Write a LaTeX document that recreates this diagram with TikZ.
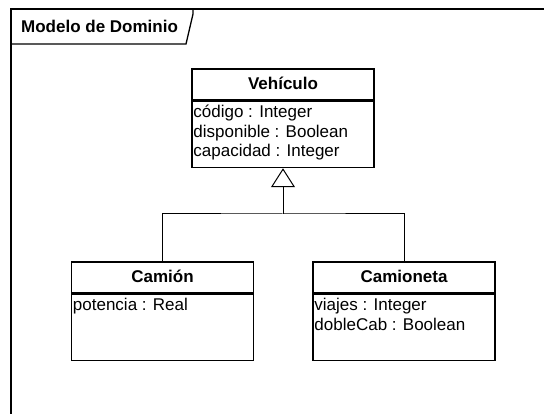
\documentclass[tikz,border=0pt]{standalone}
\usepackage{fontspec}
\setmainfont{Liberation Sans}
\usetikzlibrary{arrows.meta,calc}

\tikzset{
  umlfont/.style={font=\fontsize{17}{19.5}\selectfont},
  classname/.style={draw, line width=1.5pt, umlfont, minimum width=182pt, minimum height=31pt, text height=11pt, text depth=0pt, inner sep=0pt},
  classattr/.style={draw, line width=1.5pt, minimum width=182pt, minimum height=66pt, anchor=north, inner sep=0pt},
  attr/.style={umlfont, anchor=base west, inner sep=0pt},
  generalization/.style={line width=1pt, -{Triangle[open, length=19pt, width=24pt]}},
}

\begin{document}
\begin{tikzpicture}[x=1pt, y=-1pt]
\useasboundingbox (0,0) rectangle (544,414);
\clip (0,0) rectangle (544,414);
\draw[line width=1.6pt] (11,420)--(11,9)--(550,9);
\draw[line width=1.3pt] (11,44)--(186,44)--(193,14)--(193,9);
\node[umlfont, font=\fontsize{17}{19.5}\selectfont\bfseries, anchor=base west, inner sep=0pt] (frametitle) at (21,33) {Modelo de Dominio};

\node[classname, font=\fontsize{17}{19.5}\selectfont\bfseries] (vehiculo) at (283,84.5) {Vehículo};
\node[classattr] (vehiculoattr) at (vehiculo.south) {};
\foreach \t [count=\i from 0] in {código : Integer, disponible : Boolean, capacidad : Integer}
  \node[attr] (v\i) at ($(vehiculoattr.north west)+(2,17+19.5*\i)$) {\t};

\node[classname, font=\fontsize{17}{19.5}\selectfont\bfseries] (camion) at (162.5,277.5) {Camión};
\node[classattr] (camionattr) at (camion.south) {};
\node[attr] (c0) at ($(camionattr.north west)+(2,17)$) {potencia : Real};

\node[classname, font=\fontsize{17}{19.5}\selectfont\bfseries] (camioneta) at (404,277.5) {Camioneta};
\node[classattr] (camionetaattr) at (camioneta.south) {};
\foreach \t [count=\i from 0] in {viajes : Integer, dobleCab : Boolean}
  \node[attr] (ct\i) at ($(camionetaattr.north west)+(2,17+19.5*\i)$) {\t};

\coordinate (junction) at (283,214);
\draw[line width=1pt] (camion.north) |- (junction) -| (camioneta.north);
\draw[generalization] (junction) -- (vehiculoattr.south);
\end{tikzpicture}
\end{document}
